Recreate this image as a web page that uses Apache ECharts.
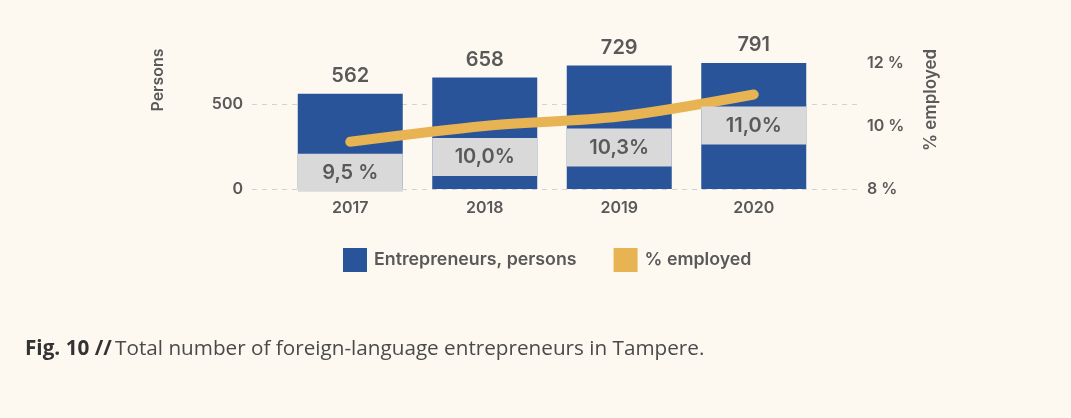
<!DOCTYPE html>
<html>
<head>
<meta charset="utf-8">
<script src="https://cdn.jsdelivr.net/npm/echarts@6/dist/echarts.min.js"></script>
<style>
  html, body { margin: 0; padding: 0; background: #fdf9f1; }
  #chart { width: 1071px; height: 418px; }
</style>
</head>
<body>
<div id="chart"></div>
<script>
// data
var years = ['2017', '2018', '2019', '2020'];
var entrepreneurs = [562, 658, 729, 791];
var employedPct = [9.5, 10.0, 10.3, 11.0];
var pctLabels = ['9,5 %', '10,0%', '10,3%', '11,0%'];

var font = 'Inter';
var grey = '#595959';

var myChart = echarts.init(document.getElementById('chart'));

var option = {
    backgroundColor: '#fdf9f1',
    textStyle: { fontFamily: font },
    grid: [
        // outer grid only carries the dashed lines and the axis labels
        { left: 252, right: 211, top: 63, bottom: 229 },
        { left: 283, right: 250, top: 63, bottom: 229 }
    ],
    legend: {
        left: 343,
        top: 248,
        padding: 0,
        icon: 'rect',
        itemWidth: 24,
        itemHeight: 24,
        itemGap: 37,
        formatter: '{t|{name}}',
        textStyle: {
            rich: {
                t: { fontFamily: font, fontSize: 17.8, fontWeight: 600, color: grey, padding: [0, 0, 0, 2] }
            }
        },
        data: ['Entrepreneurs, persons', '% employed']
    },
    xAxis: [
        { gridIndex: 0, type: 'category', data: years, show: false },
        {
            gridIndex: 1,
            type: 'category',
            data: years,
            axisLine: { show: false },
            axisTick: { show: false },
            axisLabel: { margin: 11, fontSize: 16, fontWeight: 600, color: grey, fontFamily: font }
        }
    ],
    yAxis: [
        {
            gridIndex: 0,
            type: 'value',
            position: 'left',
            min: 0,
            max: 744,
            interval: 500,
            axisLine: { show: false },
            axisTick: { show: false },
            axisLabel: { margin: 9, fontSize: 16, fontWeight: 600, color: grey, fontFamily: font, showMaxLabel: false },
            splitLine: {
                show: true,
                lineStyle: { color: ['#d2d2d2', '#d2d2d2', 'rgba(0,0,0,0)'], type: [5, 5], width: 1 }
            }
        },
        {
            gridIndex: 0,
            type: 'value',
            position: 'right',
            min: 8,
            max: 12,
            interval: 2,
            axisLine: { show: false },
            axisTick: { show: false },
            axisLabel: { margin: 7, fontSize: 16, fontWeight: 600, color: grey, fontFamily: font, formatter: '{value} %' },
            splitLine: { show: false }
        },
        { gridIndex: 1, type: 'value', min: 0, max: 744, show: false },
        { gridIndex: 1, type: 'value', min: 8, max: 12, show: false }
    ],
    graphic: [
        {
            type: 'text',
            x: 158,
            y: 80,
            rotation: Math.PI / 2,
            style: { text: 'Persons', align: 'center', verticalAlign: 'middle', font: '600 16px ' + font, fill: grey }
        },
        {
            type: 'text',
            x: 931,
            y: 100,
            rotation: Math.PI / 2,
            style: { text: '% employed', align: 'center', verticalAlign: 'middle', font: '600 17px ' + font, fill: grey }
        },
        {
            type: 'text',
            left: 25,
            top: 339,
            style: {
                text: '{b|Fig. 10 //} {r|Total number of foreign-language entrepreneurs in Tampere.}',
                rich: {
                    b: { fontFamily: 'Open Sans', fontSize: 20.7, fontWeight: 'bold', fill: '#333' },
                    r: { fontFamily: 'Open Sans', fontSize: 20.7, fill: '#4a4a4a' }
                }
            }
        }
    ],
    series: [
        {
            name: 'Entrepreneurs, persons',
            type: 'bar',
            xAxisIndex: 1,
            yAxisIndex: 2,
            data: entrepreneurs,
            barWidth: 105,
            itemStyle: { color: '#2a549a' },
            label: {
                show: true,
                position: 'top',
                distance: 8,
                fontFamily: font,
                fontSize: 20,
                fontWeight: 600,
                color: grey
            }
        },
        {
            name: '% employed',
            type: 'line',
            xAxisIndex: 1,
            yAxisIndex: 3,
            data: employedPct,
            smooth: 0.3,
            symbol: 'circle',
            symbolSize: 4,
            itemStyle: { color: '#e8b352' },
            lineStyle: { color: '#e8b352', width: 10, cap: 'round' },
            label: {
                show: true,
                position: 'bottom',
                distance: 10,
                width: 105,
                align: 'center',
                lineHeight: 22,
                padding: [8, 0],
                backgroundColor: '#d9d9d9',
                fontFamily: font,
                fontSize: 20,
                fontWeight: 600,
                color: grey,
                formatter: function (p) {
                    return pctLabels[p.dataIndex];
                }
            },
            z: 3
        }
    ]
};
myChart.setOption(option);
</script>
</body>
</html>
